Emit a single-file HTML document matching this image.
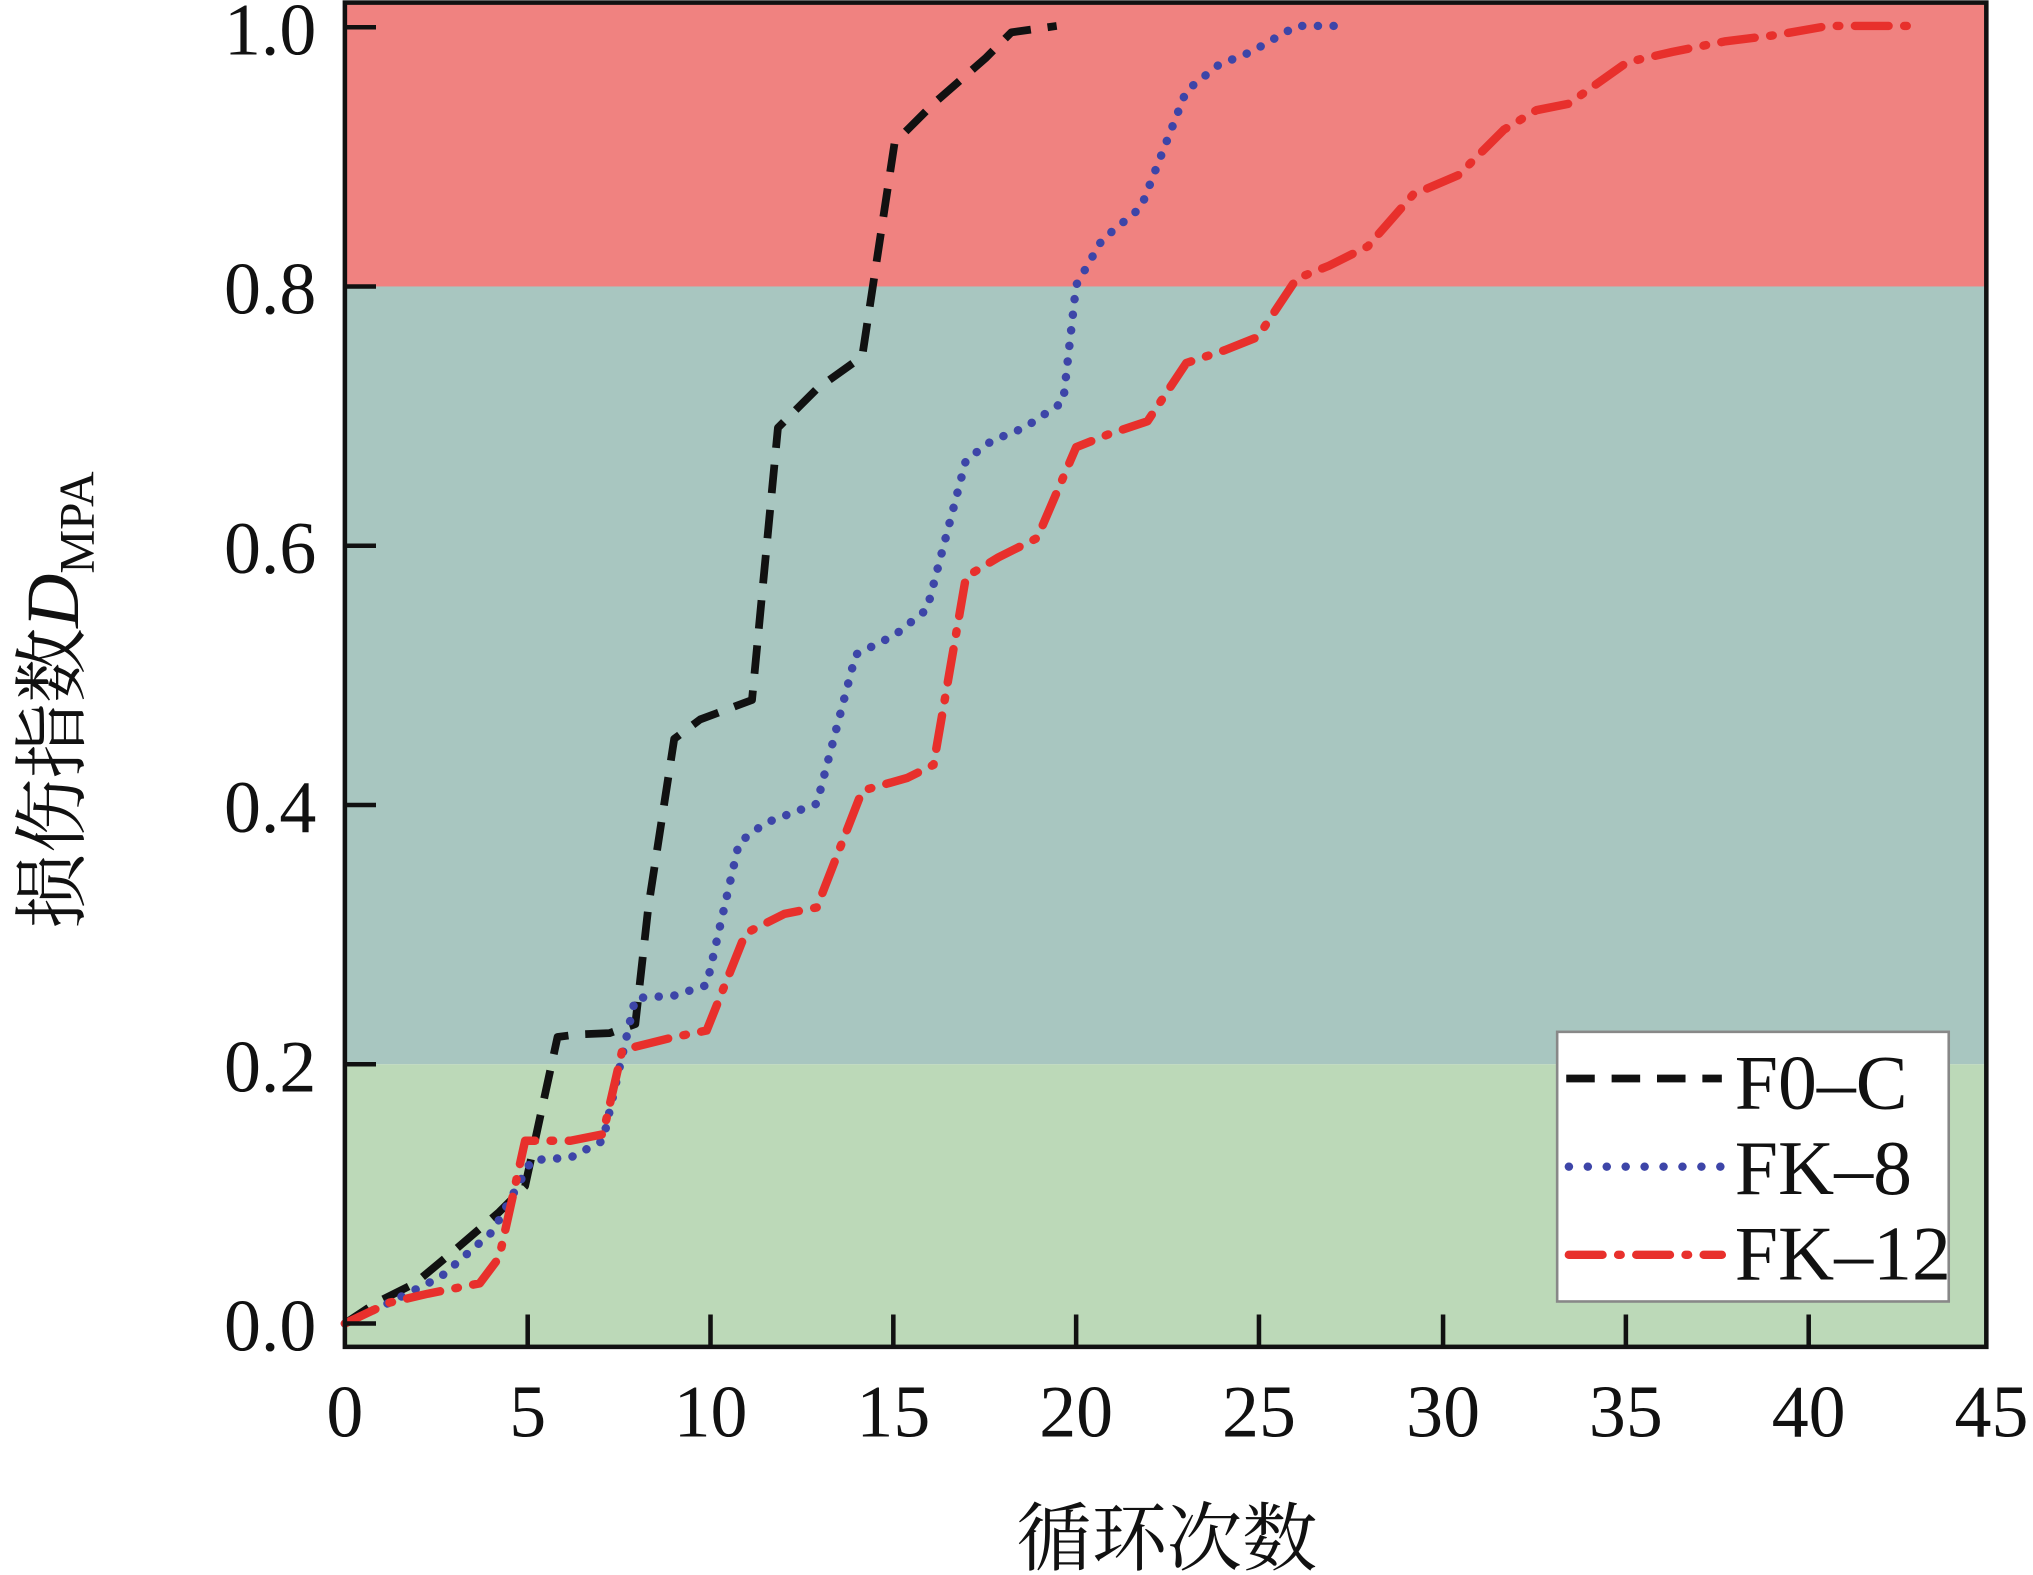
<!DOCTYPE html>
<html><head><meta charset="utf-8"><style>html,body{margin:0;padding:0;background:#fff}svg{display:block}</style></head>
<body>
<svg width="2033" height="1575" viewBox="0 0 1568 1215" preserveAspectRatio="none" xmlns="http://www.w3.org/2000/svg">
<rect x="266" y="2" width="1266" height="219" fill="#f08280"/>
<rect x="266" y="221" width="1266" height="600" fill="#a8c6c0"/>
<rect x="266" y="821" width="1266" height="218" fill="#bcd9b8"/>
<g fill="none" stroke-linejoin="round">
<polyline stroke="#111" stroke-width="6" stroke-dasharray="22,13" points="266,1021 290,1005 320,990 350,965 385,935 405,915 430,800 445,798 470,797 490,790 500,700 520,570 540,555 580,540 600,330 630,300 665,275 690,110 720,80 760,45 780,25 815,20"/>
<polyline stroke="#3d45a8" stroke-width="6.5" stroke-linecap="round" stroke-dasharray="0.1,12" points="266,1021 300,1005 340,985 380,950 410,895 440,893 465,880 490,770 520,768 545,760 570,650 590,635 630,620 660,505 690,490 715,470 745,355 765,340 790,330 820,310 830,220 850,185 880,160 915,70 940,50 965,40 1000,20 1030,20"/>
<polyline stroke="#e8302c" stroke-width="6.5" stroke-linecap="round" stroke-dasharray="26,12,2,12" points="266,1021 300,1005 330,998 370,990 385,970 405,880 440,880 465,875 480,810 520,800 545,795 575,720 605,705 630,700 665,610 700,600 720,590 745,445 770,430 800,415 830,345 855,335 885,325 915,280 945,270 970,260 1000,215 1025,205 1055,190 1090,150 1125,135 1160,100 1185,85 1210,80 1255,48 1290,40 1330,32 1370,27 1410,20 1480,20"/>
</g>
<rect x="1201" y="796" width="302" height="208" fill="#fff" stroke="#888" stroke-width="2"/>
<line x1="1208" y1="832" x2="1328" y2="832" stroke="#111" stroke-width="6" stroke-dasharray="22,13"/>
<line x1="1210" y1="900" x2="1328" y2="900" stroke="#3d45a8" stroke-width="6.5" stroke-linecap="round" stroke-dasharray="0.1,14.5"/>
<line x1="1210" y1="968" x2="1328" y2="968" stroke="#e8302c" stroke-width="6.5" stroke-linecap="round" stroke-dasharray="26,12,2,12"/>
<g font-family="Liberation Serif, serif" font-size="60" fill="#111">
<text x="1338" y="855">F0–C</text>
<text x="1338" y="921">FK–8</text>
<text x="1338" y="987">FK–12</text>
</g>
<g stroke="#111" stroke-width="3.5">
<rect x="266" y="2" width="1266" height="1037" fill="none"/>
<path d="M266,21h24M266,221h24M266,421h24M266,621h24M266,821h24M266,1021h24"/>
<path d="M407,1039v-25M548,1039v-25M689,1039v-25M830,1039v-25M971,1039v-25M1113,1039v-25M1254,1039v-25M1395,1039v-25"/>
</g>
<g font-family="Liberation Serif, serif" font-size="57" fill="#111" text-anchor="end">
<text x="244" y="42">1.0</text><text x="244" y="242">0.8</text><text x="244" y="442">0.6</text>
<text x="244" y="642">0.4</text><text x="244" y="842">0.2</text><text x="244" y="1042">0.0</text>
</g>
<g font-family="Liberation Serif, serif" font-size="57" fill="#111" text-anchor="middle">
<text x="266" y="1108">0</text><text x="407" y="1108">5</text><text x="548" y="1108">10</text>
<text x="689" y="1108">15</text><text x="830" y="1108">20</text><text x="971" y="1108">25</text>
<text x="1113" y="1108">30</text><text x="1254" y="1108">35</text><text x="1395" y="1108">40</text><text x="1536" y="1108">45</text>
</g>
<text x="900" y="1207" text-anchor="middle" font-family="Liberation Serif, 'Noto Serif CJK SC', serif" font-size="58" fill="#111">循环次数</text>
<text transform="translate(60,540) rotate(-90)" text-anchor="middle" font-family="Liberation Serif, 'Noto Serif CJK SC', serif" font-size="58" fill="#111">损伤指数<tspan font-style="italic">D</tspan><tspan font-size="38" dy="12">MPA</tspan></text>
</svg>
</body></html>
